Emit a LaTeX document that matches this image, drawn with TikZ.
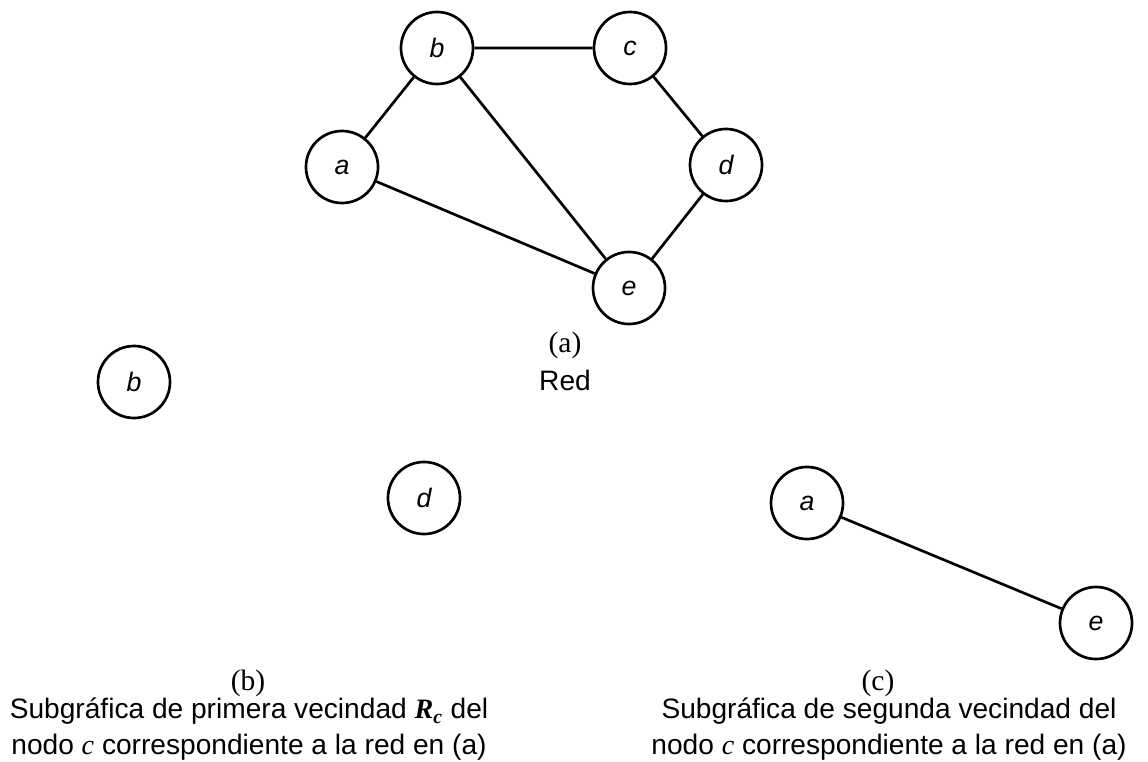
\documentclass[tikz,border=0pt]{standalone}
\usepackage{fontspec}
\setmainfont{Liberation Sans}
\newfontfamily\timesf{Liberation Serif}
\usepackage{tikz}

\begin{document}
\begin{tikzpicture}[x=0.025cm,y=-0.025cm,line width=1.9pt,
  vert/.style={circle,draw,fill=white,minimum size=1.8cm,inner sep=0pt,font=\fontsize{19}{22}\selectfont\itshape},
  capt/.style={font=\fontsize{21}{24}\selectfont\timesf},
  txt/.style={align=center,font=\fontsize{20}{25}\selectfont}]
\useasboundingbox (0,0) rectangle (1148,761);
% red (a)
\node[vert] (A) at (342,167) {a};
\node[vert] (B) at (437,48) {b};
\node[vert] (C) at (630,48) {c};
\node[vert] (D) at (726,165) {d};
\node[vert] (E) at (629,288) {e};
\draw (A)--(B) (B)--(C) (C)--(D) (D)--(E) (A)--(E) (B)--(E);
\node[capt] (capA) at (565,345) {(a)};
\node[txt] (txtA) at (565,380) {Red};
% subgrafica (b)
\node[vert] (B2) at (134,382) {b};
\node[vert] (D2) at (424,498) {d};
\node[capt] (capB) at (248,683) {(b)};
\node[txt] (txtB) at (249,729) {Subgráfica de primera vecindad {\timesf\bfseries\itshape R\textsubscript{c}} del\\
nodo {\timesf\itshape c} correspondiente a la red en (a)};
% subgrafica (c)
\node[vert] (A3) at (807,503) {a};
\node[vert] (E3) at (1096,623) {e};
\draw (A3)--(E3);
\node[capt] (capC) at (878,683) {(c)};
\node[txt] (txtC) at (889,729) {Subgráfica de segunda vecindad del\\
nodo {\timesf\itshape c} correspondiente a la red en (a)};
\end{tikzpicture}
\end{document}
